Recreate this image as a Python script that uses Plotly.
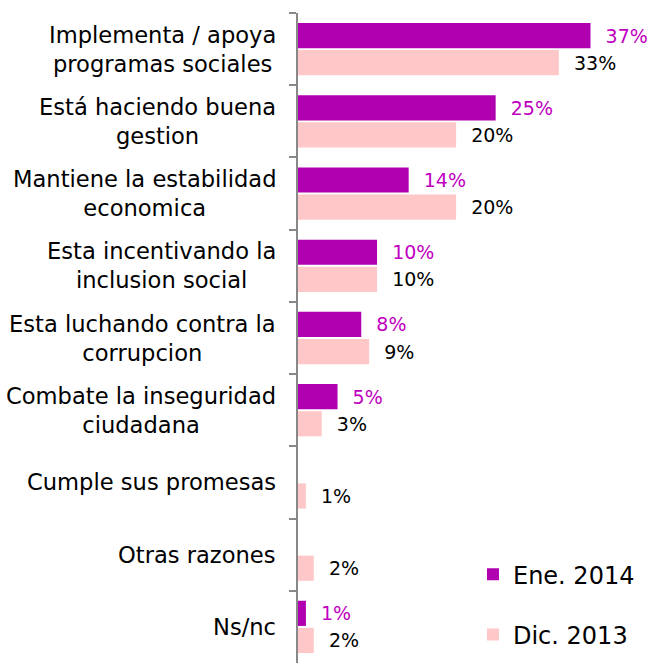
import plotly.graph_objects as go

categories = [
    "Implementa / apoya<br>programas sociales",
    "Está haciendo buena<br>gestion",
    "Mantiene la estabilidad<br>economica",
    "Esta incentivando la<br>inclusion social",
    "Esta luchando contra la<br>corrupcion",
    "Combate la inseguridad<br>ciudadana",
    "Cumple sus promesas",
    "Otras razones",
    "Ns/nc",
]
ene_2014 = [37, 25, 14, 10, 8, 5, 0, 0, 1]
dic_2013 = [33, 20, 20, 10, 9, 3, 1, 2, 2]
series_names = ["Ene. 2014", "Dic. 2013"]

FONT = "DejaVu Sans, sans-serif"
PURPLE = "#B000B0"
PINK = "#FFC8C8"
PAD = "\u00a0\u00a0"

def labels(vals):
    return [(PAD + f"{v}%") if v > 0 else "" for v in vals]

fig = go.Figure()
fig.add_trace(go.Bar(
    y=categories, x=ene_2014, orientation="h", name=series_names[0],
    marker=dict(color=PURPLE, line=dict(width=0)),
    text=labels(ene_2014), textposition="outside", cliponaxis=False,
    constraintext="none",
    textfont=dict(family=FONT, size=19, color="#C000C0"),
    legendgroup="a",
))
fig.add_trace(go.Bar(
    y=categories, x=dic_2013, orientation="h", name=series_names[1],
    marker=dict(color=PINK, line=dict(width=0)),
    text=labels(dic_2013), textposition="outside", cliponaxis=False,
    constraintext="none",
    textfont=dict(family=FONT, size=19, color="#000000"),
    legendgroup="b",
))

for c in categories:
    fig.add_annotation(
        x=0, xref="paper", y=c, yref="y", text=c, showarrow=False,
        xanchor="right", yanchor="middle", align="center", xshift=-20,
        font=dict(family=FONT, size=22.6, color="#000000"),
    )

fig.update_layout(
    width=649, height=663,
    margin=dict(l=298, r=0, t=13, b=0),
    plot_bgcolor="white", paper_bgcolor="white",
    barmode="group", bargap=0.25, bargroupgap=0.07,
    showlegend=True,
    legend=dict(
        x=0.4985, xanchor="left", y=0.009, yanchor="bottom",
        traceorder="grouped", tracegroupgap=26,
        font=dict(family=FONT, size=24, color="#000000"),
        bgcolor="rgba(0,0,0,0)",
    ),
    xaxis=dict(range=[0, 44.4], visible=False, fixedrange=True),
    yaxis=dict(
        autorange="reversed", showticklabels=False,
        showline=True, linecolor="#888888", linewidth=2,
        ticks="outside", tickson="boundaries", ticklen=7,
        tickcolor="#888888", tickwidth=2, showgrid=False, zeroline=False,
    ),
)

fig.write_html("out.html", config={"displayModeBar": False},
               post_script="document.body.style.margin='0';")
